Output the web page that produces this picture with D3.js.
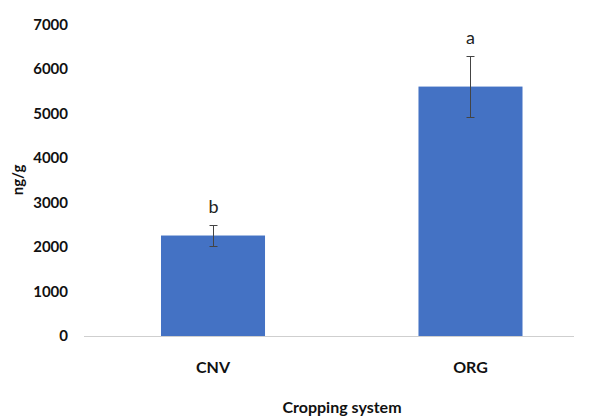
<!DOCTYPE html>
<html>
<head>
<meta charset="utf-8">
<script src="https://cdn.jsdelivr.net/npm/d3@7"></script>
<style>
  html, body { margin: 0; padding: 0; background: #fff; }
  svg { display: block; }
  text { font-family: Lato, "Open Sans", sans-serif; }
</style>
</head>
<body>
<script>
// Cropping system categories and measured concentrations (ng/g)
const categories = ["CNV", "ORG"];
const means = [2258, 5605];
const errors = [236, 685];
const letters = ["b", "a"];
const yTicks = [0, 1000, 2000, 3000, 4000, 5000, 6000, 7000];

const W = 597, H = 418;
const svg = d3.select("body").append("svg").attr("width", W).attr("height", H);

const x = d3.scaleBand().domain(categories).range([109.5, 574]).paddingInner(0.596).paddingOuter(0.2);
const y = d3.scaleLinear().domain([0, 7000]).range([336, 24.5]);

// Y axis labels only (no axis line or ticks)
const yAxis = svg.append("g").attr("transform", "translate(68,0)")
  .call(d3.axisLeft(y).tickValues(yTicks).tickFormat(d3.format("d")).tickSize(0).tickPadding(0));
yAxis.select(".domain").remove();
yAxis.selectAll("text")
  .attr("font-family", "Lato, sans-serif")
  .attr("font-weight", "bold")
  .attr("font-size", 15)
  .attr("fill", "#111");

// Bars
svg.append("g").selectAll("rect").data(categories).join("rect")
  .attr("x", d => x(d))
  .attr("width", x.bandwidth())
  .attr("y", (d, i) => y(means[i]))
  .attr("height", (d, i) => y(0) - y(means[i]))
  .attr("fill", "#4472C4");

// Baseline
svg.append("line")
  .attr("x1", 84).attr("x2", 574)
  .attr("y1", y(0) + 0.5).attr("y2", y(0) + 0.5)
  .attr("stroke", "#cfcfcf").attr("stroke-width", 1);

// Error bars
const eb = svg.append("g").attr("stroke", "#444").attr("stroke-width", 1);
categories.forEach((c, i) => {
  const cx = Math.round(x(c) + x.bandwidth() / 2) + 0.5;
  eb.append("line").attr("x1", cx).attr("x2", cx)
    .attr("y1", y(means[i] + errors[i])).attr("y2", y(means[i] - errors[i]));
  [means[i] + errors[i], means[i] - errors[i]].forEach(v => {
    eb.append("line").attr("x1", cx - 4).attr("x2", cx + 4)
      .attr("y1", Math.round(y(v)) + 0.5).attr("y2", Math.round(y(v)) + 0.5);
  });
  // Significance letter
  svg.append("text")
    .attr("x", cx).attr("y", y(means[i] + errors[i]) - 12)
    .attr("text-anchor", "middle")
    .attr("font-size", 18)
    .attr("fill", "#222")
    .text(letters[i]);
});

// X axis category labels
const xAxis = svg.append("g").attr("transform", `translate(0,${y(0)})`)
  .call(d3.axisBottom(x).tickSize(0).tickPadding(26));
xAxis.select(".domain").remove();
xAxis.selectAll("text")
  .attr("font-family", "Lato, sans-serif")
  .attr("font-weight", "bold")
  .attr("font-size", 16)
  .attr("fill", "#111");

// Axis titles
svg.append("text")
  .attr("x", 342).attr("y", 413)
  .attr("text-anchor", "middle")
  .attr("font-weight", "bold").attr("font-size", 16).attr("fill", "#111")
  .text("Cropping system");

svg.append("text")
  .attr("transform", "translate(23,180) rotate(-90)")
  .attr("text-anchor", "middle")
  .attr("font-weight", "bold").attr("font-size", 15).attr("fill", "#111")
  .text("ng/g");
</script>
</body>
</html>
